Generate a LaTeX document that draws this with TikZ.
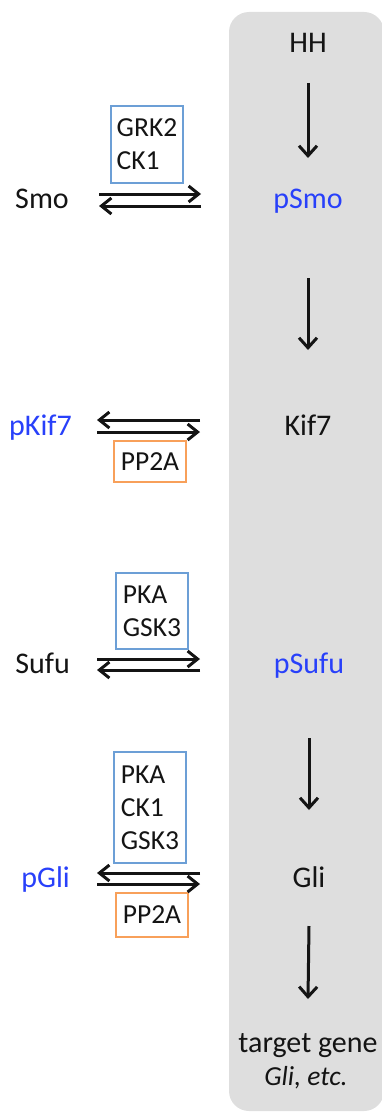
\documentclass[tikz,border=0pt]{standalone}
\usepackage{fontspec}
\setmainfont{Carlito}
\usetikzlibrary{arrows.meta}
\definecolor{panelgray}{RGB}{222,222,222}
\definecolor{phosblue}{RGB}{40,64,250}
\definecolor{kinaseblue}{RGB}{108,159,214}
\definecolor{phosorange}{RGB}{248,160,90}
\definecolor{ink}{RGB}{20,20,20}
\tikzset{
  lbl/.style={font=\fontsize{30}{36}\selectfont, text=ink, inner sep=0pt, anchor=base},
  plbl/.style={lbl, text=phosblue},
  enzyme/.style={font=\fontsize{27.5}{33}\selectfont, text=ink, align=left, inner sep=0pt,
                 draw, line width=2.2pt, minimum width=72pt},
  kinase/.style={enzyme, draw=kinaseblue},
  phosphatase/.style={enzyme, draw=phosorange},
  vflow/.style={line width=3pt, draw=ink, -{Straight Barb[length=10pt,width=18pt]}},
  hflow/.style={line width=3pt, draw=ink, -{Straight Barb[length=10pt,width=16pt]}},
}
\begin{document}
\begin{tikzpicture}[x=1pt,y=-1pt]
\useasboundingbox (0,0) rectangle (382,1113);
% pathway panel
\fill[panelgray, rounded corners=20pt] (229,12) rectangle (384,1111);

% pathway column
\node[lbl] (hh) at (308,53) {HH};
\node[plbl] (psmo) at (308,208) {pSmo};
\node[lbl] (kif7) at (308,435) {Kif7};
\node[plbl] (psufu) at (309,673) {pSufu};
\node[lbl] (gli) at (309,887) {Gli};
\node[lbl] (target) at (308,1052) {target gene};
\node[lbl, font=\fontsize{27.5}{33}\selectfont\itshape] (targetsub) at (306,1085) {Gli, etc.};

\draw[vflow] ([yshift=-30pt]hh.base) -- ([yshift=50pt]psmo.base);
\draw[vflow] ([yshift=-70pt]psmo.base) -- ([yshift=85pt]kif7.base);
\draw[vflow] ([yshift=-65pt]psufu.base) -- ([yshift=77pt]gli.base);
\draw[vflow] ([yshift=-39pt]gli.base) -- ([yshift=53pt]target.base);

% left column
\node[lbl, anchor=base east] (smo) at (69,208) {Smo};
\node[plbl, anchor=base east] (pkif7) at (72,435) {pKif7};
\node[lbl, anchor=base east] (sufu) at (70,673) {Sufu};
\node[plbl, anchor=base east] (pgli) at (70,887) {pGli};

% enzymes
\node[kinase, minimum height=77pt] (k1) at (147,144.5) {GRK2\\CK1};
\node[phosphatase, minimum height=41pt] (p1) at (150,461.5) {PP2A};
\node[kinase, minimum height=76pt] (k2) at (152,611) {PKA\\GSK3};
\node[kinase, minimum height=111pt] (k3) at (150,807.5) {PKA\\CK1\\GSK3};
\node[phosphatase, minimum height=44pt] (p2) at (152,915) {PP2A};

% reversible reactions
\coordinate (smoA) at (99,194);  \coordinate (smoB) at (201,194);
\coordinate (smoC) at (99,206);  \coordinate (smoD) at (201,206);
\draw[hflow] (smoA) -- (smoB);
\draw[hflow] (smoD) -- (smoC);

\coordinate (kifA) at (97,420);  \coordinate (kifB) at (200,420);
\coordinate (kifC) at (97,432);  \coordinate (kifD) at (200,432);
\draw[hflow] (kifB) -- (kifA);
\draw[hflow] (kifC) -- (kifD);

\coordinate (sufA) at (97,659);  \coordinate (sufB) at (200,659);
\coordinate (sufC) at (97,670);  \coordinate (sufD) at (200,670);
\draw[hflow] (sufA) -- (sufB);
\draw[hflow] (sufD) -- (sufC);

\coordinate (gliA) at (97,873);  \coordinate (gliB) at (200,873);
\coordinate (gliC) at (97,884);  \coordinate (gliD) at (200,884);
\draw[hflow] (gliB) -- (gliA);
\draw[hflow] (gliC) -- (gliD);
\end{tikzpicture}
\end{document}
